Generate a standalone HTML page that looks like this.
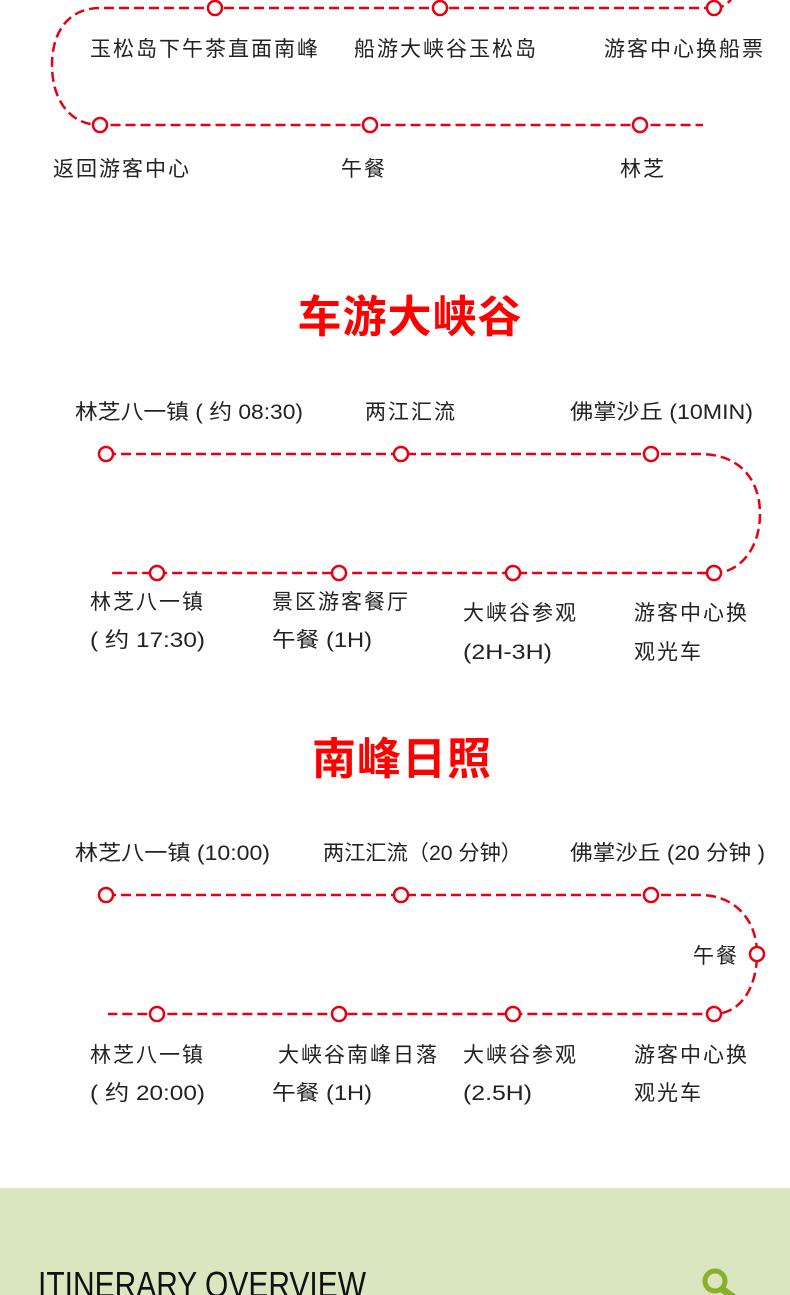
<!DOCTYPE html>
<html><head><meta charset="utf-8"><style>
html,body{margin:0;padding:0;background:#fff;width:790px;height:1295px;overflow:hidden;position:relative}
svg{position:absolute;left:0;top:0}
text{font-family:"Liberation Sans","Noto Sans CJK SC",sans-serif;fill:#222;font-size:21px;letter-spacing:2px}
.m{letter-spacing:0}
.t{font-size:44px;font-weight:bold;fill:#f00;letter-spacing:1px}
.l{fill:none;stroke:#e60012;stroke-width:2.5;stroke-dasharray:10 5}
circle{fill:#fff;stroke:#e60012;stroke-width:2.5}
</style></head><body>
<svg width="790" height="1295" viewBox="0 0 790 1295">
<rect x="0" y="1188" width="790" height="107" fill="#d9e6bf"/>
<!-- section 1 -->
<path class="l" d="M714 8 C722 8 728 4 732 -2 M714 8 H100 C70 8 52 30 52 65 C52 100 70 125 100 125 H703"/>
<circle cx="215" cy="8" r="7"/><circle cx="440" cy="8" r="7"/><circle cx="714" cy="8" r="7"/>
<circle cx="100" cy="125" r="7"/><circle cx="370" cy="125" r="7"/><circle cx="640" cy="125" r="7"/>
<text x="90" y="56">玉松岛下午茶直面南峰</text>
<text x="354" y="56">船游大峡谷玉松岛</text>
<text x="604" y="56">游客中心换船票</text>
<text x="53" y="176">返回游客中心</text>
<text x="341" y="176">午餐</text>
<text x="620" y="176">林芝</text>
<text class="t" x="410" y="332" text-anchor="middle">车游大峡谷</text>
<!-- section 2 -->
<path class="l" d="M106 454 H700 C740 454 760 480 760 514 C760 548 740 573 714 573 H108"/>
<circle cx="106" cy="454" r="7"/><circle cx="401" cy="454" r="7"/><circle cx="651" cy="454" r="7"/>
<circle cx="157" cy="573" r="7"/><circle cx="339" cy="573" r="7"/><circle cx="513" cy="573" r="7"/><circle cx="714" cy="573" r="7"/>
<text class="m" x="75" y="419" textLength="228" lengthAdjust="spacingAndGlyphs">林芝八一镇 ( 约 08:30)</text>
<text x="365" y="419">两江汇流</text>
<text class="m" x="570" y="419" textLength="183" lengthAdjust="spacingAndGlyphs">佛掌沙丘 (10MIN)</text>
<text x="90" y="609">林芝八一镇</text><text class="m" x="90" y="647" textLength="115" lengthAdjust="spacingAndGlyphs">( 约 17:30)</text>
<text x="272" y="609">景区游客餐厅</text><text class="m" x="272" y="647" textLength="100" lengthAdjust="spacingAndGlyphs">午餐 (1H)</text>
<text x="463" y="620">大峡谷参观</text><text class="m" x="463" y="659" textLength="89" lengthAdjust="spacingAndGlyphs">(2H-3H)</text>
<text x="634" y="620">游客中心换</text><text x="634" y="659">观光车</text>
<text class="t" x="402" y="774" text-anchor="middle">南峰日照</text>
<!-- section 3 -->
<path class="l" d="M106 895 H700 C735 895 757 920 757 954 C757 988 740 1014 714 1014 H108"/>
<circle cx="106" cy="895" r="7"/><circle cx="401" cy="895" r="7"/><circle cx="651" cy="895" r="7"/>
<circle cx="757" cy="954" r="7"/>
<circle cx="157" cy="1014" r="7"/><circle cx="339" cy="1014" r="7"/><circle cx="513" cy="1014" r="7"/><circle cx="714" cy="1014" r="7"/>
<text class="m" x="75" y="860" textLength="195" lengthAdjust="spacingAndGlyphs">林芝八一镇 (10:00)</text>
<text class="m" x="323" y="860" textLength="199" lengthAdjust="spacingAndGlyphs">两江汇流（20 分钟）</text>
<text class="m" x="570" y="860" textLength="195" lengthAdjust="spacingAndGlyphs">佛掌沙丘 (20 分钟 )</text>
<text x="693" y="963">午餐</text>
<text x="90" y="1062">林芝八一镇</text><text class="m" x="90" y="1100" textLength="115" lengthAdjust="spacingAndGlyphs">( 约 20:00)</text>
<text x="278" y="1062">大峡谷南峰日落</text><text class="m" x="272" y="1100" textLength="100" lengthAdjust="spacingAndGlyphs">午餐 (1H)</text>
<text x="463" y="1062">大峡谷参观</text><text class="m" x="463" y="1100" textLength="69" lengthAdjust="spacingAndGlyphs">(2.5H)</text>
<text x="634" y="1062">游客中心换</text><text x="634" y="1100">观光车</text>
<!-- footer -->
<text x="38" y="1297" style="font-size:36px;fill:#111;letter-spacing:0" textLength="328" lengthAdjust="spacingAndGlyphs">ITINERARY OVERVIEW</text>
<circle cx="715" cy="1281" r="10" style="fill:none;stroke:#8aaf2a;stroke-width:5"/>
<line x1="722" y1="1289" x2="740" y2="1302" stroke="#8aaf2a" stroke-width="7"/>
</svg>
</body></html>
